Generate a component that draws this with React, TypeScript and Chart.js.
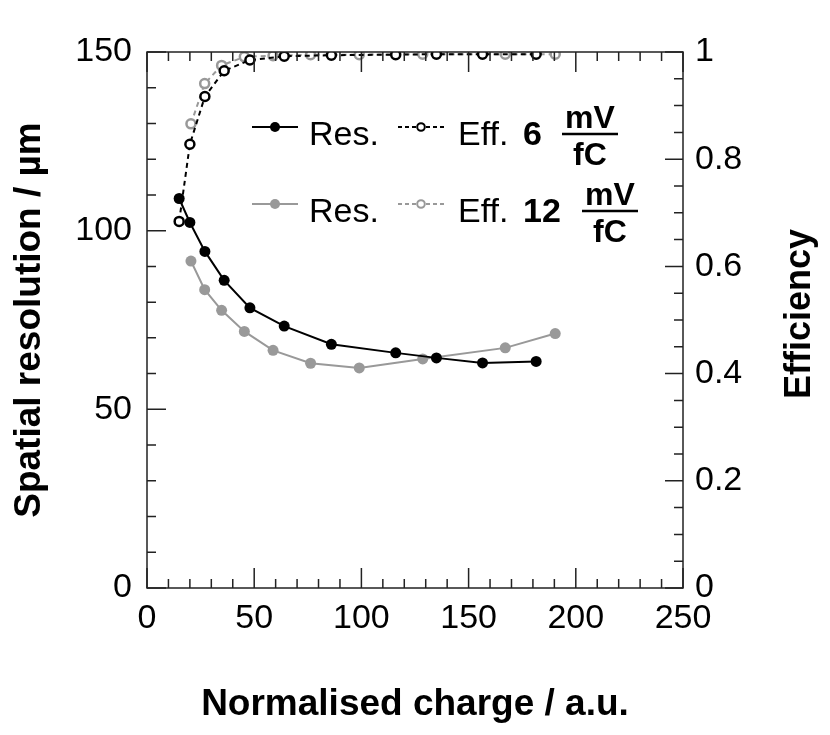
import { useEffect, useRef } from 'react'
import { Chart, registerables } from 'chart.js'

Chart.register(...registerables)

// 6 mV/fC threshold
const charge6 = [15, 20, 27, 36, 48, 64, 86, 116, 135, 156.5, 181.5]
const res6 = [109, 102.3, 94.2, 86.1, 78.4, 73.3, 68.2, 65.8, 64.4, 63.0, 63.4]
const eff6 = [0.684, 0.828, 0.917, 0.965, 0.985, 0.992, 0.994, 0.995, 0.996, 0.996, 0.996]

// 12 mV/fC threshold
const charge12 = [20.5, 26.9, 34.8, 45.4, 58.8, 76.3, 99, 128.6, 167.1, 190.4]
const res12 = [91.5, 83.5, 77.7, 71.8, 66.5, 62.9, 61.6, 64.1, 67.2, 71.2]
const eff12 = [0.866, 0.941, 0.975, 0.991, 0.993, 0.995, 0.995, 0.996, 0.996, 0.996]

const xTicks = [0, 50, 100, 150, 200, 250]
const resTicks = [0, 50, 100, 150]
const effTicks = [0, 0.2, 0.4, 0.6, 0.8, 1]

const FONT = '"Liberation Sans", Arial, Helvetica, sans-serif'
const GREY = '#999999'

const toPoints = (xs: number[], ys: number[]) => xs.map((x, i) => ({ x, y: ys[i] }))

// frame with inward ticks, axis titles and the legend
const decorPlugin = {
  id: 'decor',
  afterDatasetsDraw(chart: any) {
    const ctx = chart.ctx
    const { left, right, top, bottom } = chart.chartArea
    const xs = chart.scales.x
    const ys = chart.scales.y
    const ys1 = chart.scales.y1
    ctx.save()
    ctx.strokeStyle = '#222'
    ctx.lineWidth = 1.5
    ctx.strokeRect(left, top, right - left, bottom - top)

    ctx.beginPath()
    for (let v = 0; v <= 250; v += 10) {
      const px = xs.getPixelForValue(v)
      const len = v % 50 === 0 ? 20 : 9
      ctx.moveTo(px, bottom)
      ctx.lineTo(px, bottom - len)
      ctx.moveTo(px, top)
      ctx.lineTo(px, top + len)
    }
    for (let v = 0; v <= 150; v += 10) {
      const py = ys.getPixelForValue(v)
      const len = v % 50 === 0 ? 19 : 9
      ctx.moveTo(left, py)
      ctx.lineTo(left + len, py)
    }
    for (let i = 0; i <= 20; i++) {
      const py = ys1.getPixelForValue(i * 0.05)
      const len = i % 4 === 0 ? 18 : 9
      ctx.moveTo(right, py)
      ctx.lineTo(right - len, py)
    }
    ctx.stroke()

    // axis titles
    ctx.fillStyle = '#000'
    ctx.font = `bold 37px ${FONT}`
    ctx.textAlign = 'center'
    ctx.textBaseline = 'middle'
    ctx.fillText('Normalised charge / a.u.', (left + right) / 2, 705)
    ctx.save()
    ctx.translate(30, (top + bottom) / 2)
    ctx.rotate(-Math.PI / 2)
    ctx.fillText('Spatial resolution / µm', 0, 0)
    ctx.restore()
    ctx.save()
    ctx.font = `bold 36px ${FONT}`
    ctx.translate(800, 314)
    ctx.rotate(-Math.PI / 2)
    ctx.fillText('Efficiency', 0, 0)
    ctx.restore()

    // legend
    const rows = [
      { y: 127, color: '#000', num: '6', numX: 523, fracX: 590 },
      { y: 204, color: GREY, num: '12', numX: 523, fracX: 610 },
    ]
    rows.forEach((r) => {
      ctx.strokeStyle = r.color
      ctx.fillStyle = r.color
      ctx.setLineDash([])
      ctx.lineWidth = 2
      ctx.beginPath()
      ctx.moveTo(252, r.y)
      ctx.lineTo(298, r.y)
      ctx.stroke()
      ctx.beginPath()
      ctx.arc(275, r.y, 5, 0, Math.PI * 2)
      ctx.fill()

      ctx.setLineDash([4, 3])
      ctx.beginPath()
      ctx.moveTo(398, r.y)
      ctx.lineTo(447, r.y)
      ctx.stroke()
      ctx.setLineDash([])
      ctx.fillStyle = '#fff'
      ctx.beginPath()
      ctx.arc(421, r.y, 3.8, 0, Math.PI * 2)
      ctx.fill()
      ctx.stroke()

      const base = r.y + 18
      ctx.fillStyle = '#000'
      ctx.textAlign = 'left'
      ctx.textBaseline = 'alphabetic'
      ctx.font = `34px ${FONT}`
      ctx.fillText('Res.', 309, base)
      ctx.fillText('Eff.', 458, base)
      ctx.font = `bold 34px ${FONT}`
      ctx.fillText(r.num, r.numX, base)

      ctx.font = `bold 32px ${FONT}`
      ctx.textAlign = 'center'
      ctx.fillText('mV', r.fracX, r.y + 1)
      ctx.fillText('fC', r.fracX, r.y + 38)
      ctx.strokeStyle = '#000'
      ctx.lineWidth = 2.5
      ctx.beginPath()
      ctx.moveTo(r.fracX - 28, r.y + 7)
      ctx.lineTo(r.fracX + 28, r.y + 7)
      ctx.stroke()
    })
    ctx.restore()
  },
}

export default function App() {
  const canvasRef = useRef<HTMLCanvasElement>(null)
  const chartRef = useRef<Chart | null>(null)

  useEffect(() => {
    document.body.style.margin = '0'
    if (!canvasRef.current) return
    if (chartRef.current) chartRef.current.destroy()

    const tickFont = { family: FONT, size: 34 }

    chartRef.current = new Chart(canvasRef.current, {
      type: 'line',
      data: {
        datasets: [
          {
            label: 'Res. 6 mV/fC',
            data: toPoints(charge6, res6),
            yAxisID: 'y',
            borderColor: '#000',
            backgroundColor: '#000',
            borderWidth: 2,
            pointRadius: 5.5,
            pointBorderWidth: 0,
            tension: 0,
          },
          {
            label: 'Eff. 6 mV/fC',
            data: toPoints(charge6, eff6),
            yAxisID: 'y1',
            borderColor: '#000',
            backgroundColor: '#fff',
            borderWidth: 2,
            borderDash: [5, 4],
            pointRadius: 4.5,
            pointBorderWidth: 2.5,
            pointBackgroundColor: '#fff',
            tension: 0,
          },
          {
            label: 'Res. 12 mV/fC',
            data: toPoints(charge12, res12),
            yAxisID: 'y',
            borderColor: GREY,
            backgroundColor: GREY,
            borderWidth: 2,
            pointRadius: 5.5,
            pointBorderWidth: 0,
            tension: 0,
          },
          {
            label: 'Eff. 12 mV/fC',
            data: toPoints(charge12, eff12),
            yAxisID: 'y1',
            borderColor: GREY,
            backgroundColor: '#fff',
            borderWidth: 2,
            borderDash: [5, 4],
            pointRadius: 4.5,
            pointBorderWidth: 2.5,
            pointBackgroundColor: '#fff',
            tension: 0,
          },
        ],
      },
      options: {
        animation: false,
        responsive: true,
        maintainAspectRatio: false,
        layout: { padding: { top: 52, left: 0, right: 0, bottom: 0 } },
        plugins: {
          legend: { display: false },
          tooltip: { enabled: false },
        },
        scales: {
          x: {
            type: 'linear',
            min: 0,
            max: 250,
            afterFit: (s: any) => { s.height = 147 },
            afterBuildTicks: (s: any) => { s.ticks = xTicks.map((v) => ({ value: v })) },
            grid: { display: false, drawTicks: false },
            border: { display: false },
            ticks: { font: tickFont, color: '#000', padding: 10, maxRotation: 0, autoSkip: false },
          },
          y: {
            type: 'linear',
            position: 'left',
            min: 0,
            max: 150,
            afterFit: (s: any) => { s.width = 147 },
            afterBuildTicks: (s: any) => { s.ticks = resTicks.map((v) => ({ value: v })) },
            grid: { display: false, drawTicks: false },
            border: { display: false },
            ticks: { font: tickFont, color: '#000', padding: 15 },
          },
          y1: {
            type: 'linear',
            position: 'right',
            min: 0,
            max: 1,
            afterFit: (s: any) => { s.width = 147 },
            afterBuildTicks: (s: any) => { s.ticks = effTicks.map((v) => ({ value: v })) },
            grid: { display: false, drawTicks: false },
            border: { display: false },
            ticks: {
              font: tickFont,
              color: '#000',
              padding: 12,
              callback: (v: any) => String(Math.round(Number(v) * 10) / 10),
            },
          },
        },
      },
      plugins: [decorPlugin],
    } as any)

    return () => {
      if (chartRef.current) {
        chartRef.current.destroy()
        chartRef.current = null
      }
    }
  }, [])

  return (
    <div style={{ width: 830, height: 735, position: 'relative' }}>
      <canvas ref={canvasRef} />
    </div>
  )
}
